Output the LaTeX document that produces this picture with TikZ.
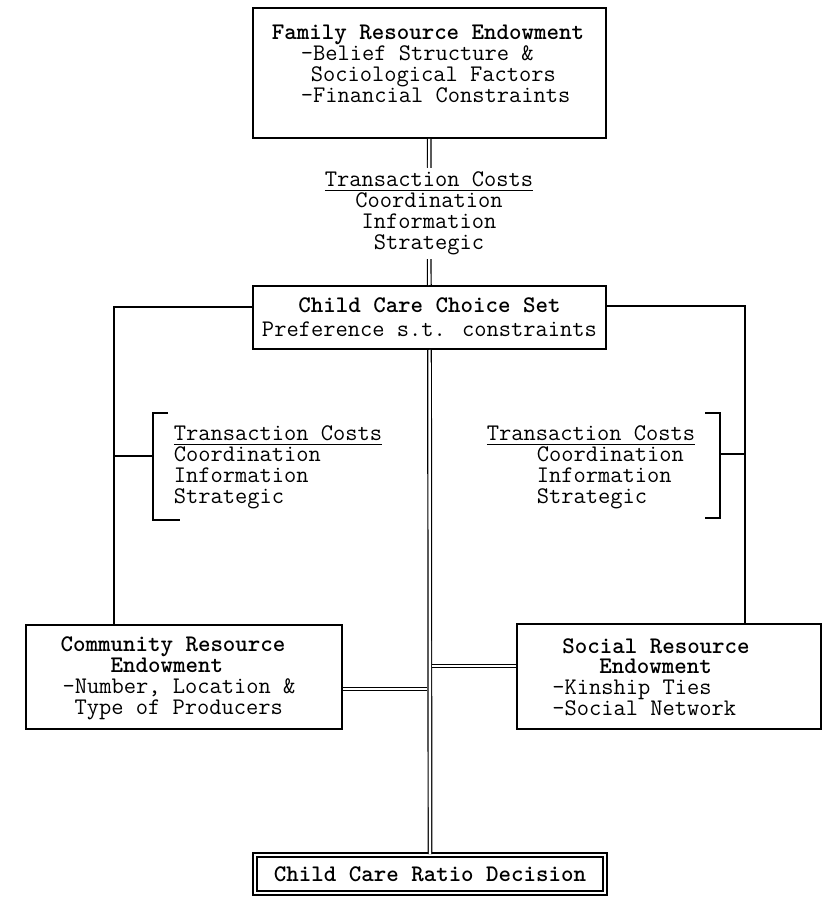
\documentclass[tikz,border=0pt]{standalone}
\usepackage{tikz}
\usetikzlibrary{calc}

\begin{document}
\begin{tikzpicture}[x=0.5pt,y=-0.5pt,
  kutu/.style={draw,line width=1pt,inner sep=0pt,align=center,
               font=\ttfamily\fontsize{11.9}{10.4}\selectfont},
  yazi/.style={inner sep=0pt,align=left,font=\ttfamily\fontsize{11.9}{10.4}\selectfont},
  cizgi/.style={line width=1pt},
  cift/.style={double,line width=0.6pt,double distance=1.2pt}]
\useasboundingbox (0,0) rectangle (826,897);
\node[kutu,minimum width=176.5pt,minimum height=65pt] (fam) at (429.5,73) {};
\node[yazi] (famtxt) at (428,64) {\textbf{Family Resource Endowment}\\
  \hspace*{14.5pt}-Belief Structure \&\\
  \hspace*{19.5pt}Sociological Factors\\
  \hspace*{14.5pt}-Financial Constraints};
\node[yazi,align=center,inner ysep=2pt] (tc) at (429,213.5)
  {\underline{Transaction Costs}\\ Coordination\\ Information\\ Strategic};
\node[kutu,minimum width=176.5pt,minimum height=31.5pt] (choice) at (429.5,317.5)
  {\textbf{Child Care Choice Set}\\[1.5pt] Preference s.t. constraints};
\node[yazi] (tcl) at (278,467.5)
  {\underline{Transaction Costs}\\ Coordination\\ Information\\ Strategic};
\node[yazi] (tcr) at (591,467.5)
  {\underline{Transaction Costs}\\ \hspace*{25pt}Coordination\\
   \hspace*{25pt}Information\\ \hspace*{25pt}Strategic};
\node[kutu,minimum width=158pt,minimum height=52pt] (comm) at (184,677) {};
\node[yazi] (commtxt) at (178,678.5) {\textbf{Community Resource}\\
  \hspace*{25pt}\textbf{Endowment}\\
  \hspace*{1pt}-Number, Location \&\\
  \hspace*{7pt}Type of Producers};
\node[kutu,minimum width=152pt,minimum height=52.5pt] (soc) at (669,676.5) {};
\node[yazi] (soctxt) at (651,677) {\hspace*{5pt}\textbf{Social Resource}\\
  \hspace*{23.5pt}\textbf{Endowment}\\
  -Kinship Ties\\
  -Social Network};
\node[kutu,double,line width=0.8pt,double distance=1.2pt,
      minimum width=175.2pt,minimum height=19.2pt] (ratio) at (430,874)
  {\textbf{Child Care Ratio Decision}};
\coordinate (bl) at (153,456);
\coordinate (br) at (720,454);
\draw[cift] (fam) -- (tc);
\draw[cift] (tc) -- (choice);
\draw[cift] (choice) -- (ratio);
\draw[cizgi] ([yshift=5pt]choice.west) -| ([xshift=-35pt]comm.north);
\draw[cizgi] ([yshift=5.5pt]choice.east) -| ([xshift=38pt]soc.north);
\draw[cizgi] (168,413) -- (153,413) -- (153,520) -- (180,520);
\draw[cizgi] (705,413) -- (720,413) -- (720,518) -- (705,518);
\draw[cizgi] (bl -| 114,0) -- (bl);
\draw[cizgi] (br -| 745,0) -- (br);
\draw[cift,shorten >=1.2pt] ([yshift=-6pt]comm.east) -- ([yshift=-6pt]comm.east -| choice.south);
\draw[cift,shorten >=1.2pt] ([yshift=5.25pt]soc.west) -- ([yshift=5.25pt]soc.west -| choice.south);
\end{tikzpicture}
\end{document}
